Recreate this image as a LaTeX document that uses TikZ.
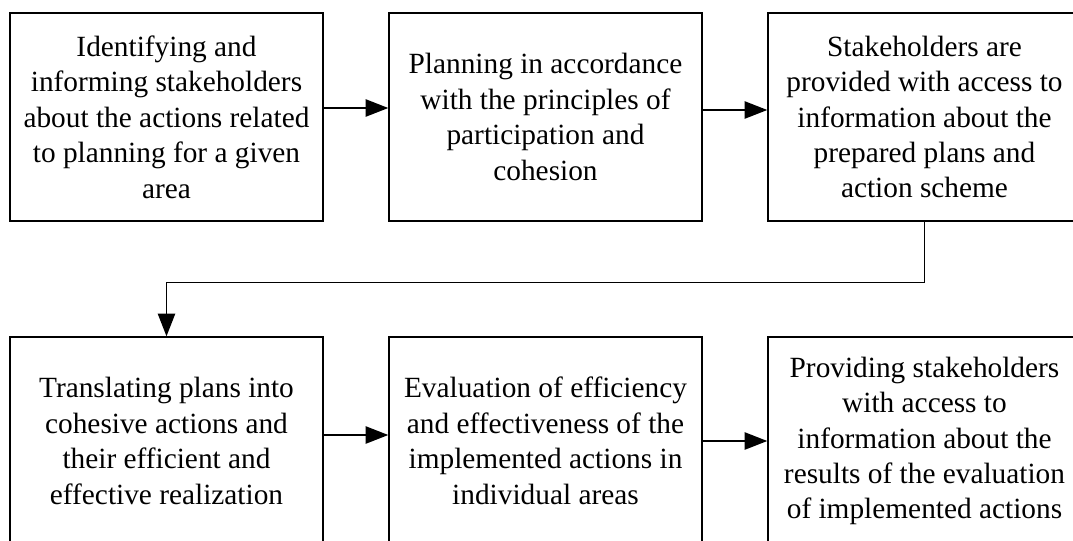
\documentclass[tikz,border=0pt]{standalone}
\usepackage{fontspec}
\setmainfont{Liberation Serif}
\usetikzlibrary{arrows.meta}
\begin{document}
\begin{tikzpicture}[x=0.75pt,y=-0.75pt,
  box/.style={draw, line width=1.1pt, minimum width=234.75pt, minimum height=156pt,
    inner sep=0pt, align=center, font=\fontsize{22}{26.6}\selectfont},
  arr/.style={line width=1.1pt, -{Triangle[length=17pt,width=13pt]}}]
\useasboundingbox (0,0) rectangle (1073,540);
\clip (0,0) rectangle (1073,540);
\node[box] (b1) at (166.5,117) {Identifying and\\informing stakeholders\\about the actions related\\to planning for a given\\area};
\node[box] (b2) at (545.5,117) {Planning in accordance\\with the principles of\\participation and\\cohesion};
\node[box] (b3) at (924.5,117) {Stakeholders are\\provided with access to\\information about the\\prepared plans and\\action scheme};
\node[box] (b4) at (166.5,441) {Translating plans into\\cohesive actions and\\their efficient and\\effective realization};
\node[box] (b5) at (545.5,441) {Evaluation of efficiency\\and effectiveness of the\\implemented actions in\\individual areas};
\node[box] (b6) at (924.5,441) {Providing stakeholders\\with access to\\information about the\\results of the evaluation\\of implemented actions};
\draw[arr] ([yshift=6.75pt]b1.east) -- ([yshift=6.75pt]b2.west);
\draw[arr] ([yshift=5.25pt]b2.east) -- ([yshift=5.25pt]b3.west);
\draw[arr] (b3.south) -- ++(0,61) -| (b4.north);
\draw[arr] ([yshift=4.5pt]b4.east) -- ([yshift=4.5pt]b5.west);
\draw[arr] (b5.east) -- (b6.west);
\end{tikzpicture}
\end{document}
